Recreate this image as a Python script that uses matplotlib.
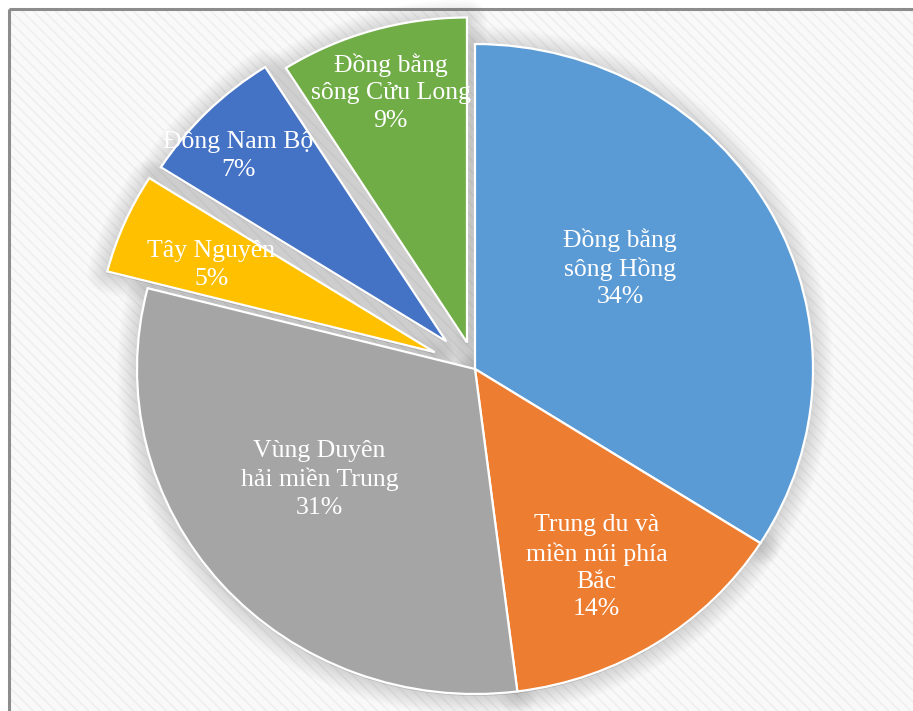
import matplotlib
matplotlib.use("Agg")
import matplotlib.pyplot as plt
from matplotlib.patches import Rectangle, Wedge

# Cơ cấu theo vùng (%)
regions = [
    "Đồng bằng\nsông Hồng",
    "Trung du và\nmiền núi phía\nBắc",
    "Vùng Duyên\nhải miền Trung",
    "Tây Nguyên",
    "Đông Nam Bộ",
    "Đồng bằng\nsông Cửu Long",
]
shares = [34, 14, 31, 5, 7, 9]
colors = ["#5B9BD5", "#ED7D31", "#A5A5A5", "#FFC000", "#4472C4", "#70AD47"]
explode = [0, 0, 0, 0.13, 0.12, 0.085]
# label anchor points in pie units (x, y)
label_pos = [(0.43, 0.31), (0.36, -0.61), (-0.46, -0.34),
             (-0.78, 0.32), (-0.70, 0.655), (-0.25, 0.85)]

plt.rcParams["font.family"] = ["Liberation Serif", "DejaVu Serif"]
plt.rcParams["hatch.color"] = "#ededed"
plt.rcParams["hatch.linewidth"] = 1.0

W, H = 913, 711
fig = plt.figure(figsize=(W / 100, H / 100), dpi=100)
fig.patch.set_facecolor("white")

# chart area: light diagonal texture + grey frame (left/top visible)
bg = fig.add_axes([0, 0, 1, 1], zorder=-1)
bg.set_xlim(0, W)
bg.set_ylim(H, 0)
bg.axis("off")
bg.add_patch(Rectangle((9, 9), W, H, facecolor="#f9f9f9", edgecolor="#ededed",
                       hatch="\\\\\\", linewidth=0))
bg.add_patch(Rectangle((9, 9), W + 50, H + 50, facecolor="none",
                       edgecolor="#8c8c8c", linewidth=2.2))

ax = fig.add_axes([0, 0, 1, 1])
ax.set_facecolor("none")
wedges, _ = ax.pie(shares, colors=colors, startangle=90, counterclock=False,
                   explode=explode, radius=1,
                   wedgeprops=dict(edgecolor="white", linewidth=1.6, zorder=3))

# soft shadow beneath each slice
for w in wedges:
    cx, cy = w.center
    for k in range(1, 13):
        sh = Wedge((cx, cy - 0.006), w.r, w.theta1, w.theta2,
                   facecolor="#707070", edgecolor="#707070",
                   linewidth=2.4 * k, alpha=0.02, joinstyle="round", zorder=1)
        ax.add_patch(sh)

for (lx, ly), name, v in zip(label_pos, regions, shares):
    ax.text(lx, ly, f"{name}\n{v}%", ha="center", va="center",
            color="white", fontsize=18.5, linespacing=1.32, zorder=5)

# slightly wider than tall, as in the source chart
cx_px, cy_px, rx, ry = 475, 369, 338, 325
ax.set_aspect("auto")
ax.set_xlim(-cx_px / rx, (W - cx_px) / rx)
ax.set_ylim(-(H - cy_px) / ry, cy_px / ry)
ax.axis("off")

fig.savefig("out.png", dpi=100)
